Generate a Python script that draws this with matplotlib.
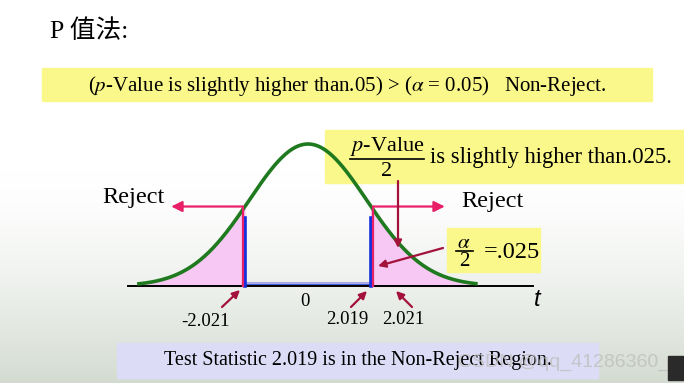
import numpy as np
import matplotlib.pyplot as plt
from matplotlib.patches import Rectangle
from matplotlib import transforms

# values shown on the slide
crit = 2.021          # critical t value (two-sided, alpha = 0.05)
t_stat = 2.019        # test statistic
spread = 1.876        # width of the schematic bell curve (t units)
t_lo, t_hi = -5.42, 5.38
tick_labels = ['-2.021', '0', '2.019', '2.021']

title = 'P 值法:'
banner = r'($p$-Value is slightly higher than.05) > ($\alpha$ = 0.05)   Non-Reject.'
bottom = 'Test Statistic 2.019 is in the Non-Reject Region.'

serif = ['Liberation Serif', 'Noto Sans CJK SC']
plt.rcParams['mathtext.fontset'] = 'stix'

# layout: pixel (from top-left) -> data
X0, SX, Y0, SY = 308, 31.2, 286, 142.0
def dx(px):
    return (px - X0) / SX
def dy(py):
    return (Y0 - py) / SY

fig = plt.figure(figsize=(6.84, 3.83), dpi=100)
ax = fig.add_axes([0, 0, 1, 1])
ax.set_xlim(dx(0), dx(684))
ax.set_ylim(dy(383), dy(0))
ax.axis('off')

# faint photo-like background in the lower part
grad = np.linspace(0, 1, 200)[:, None] ** 1.5 * np.ones((1, 50))
tint = np.array([0.83, 0.86, 0.82])
bg = 1 - grad[..., None] * (1 - tint)
ax.imshow(bg, extent=(dx(0), dx(684), dy(383), dy(170)), aspect='auto',
          zorder=0, origin='upper')

# bell curve
t = np.linspace(t_lo, t_hi, 400)
f = np.exp(-t ** 2 / (2 * spread ** 2))
ax.fill_between(t, 0, f, where=t <= -crit, color='#F7C8F3', zorder=2)
ax.fill_between(t, 0, f, where=t >= crit, color='#F7C8F3', zorder=2)
ax.plot(t, f, color='#1F7A1F', lw=2.6, zorder=5)

# t axis
ax.plot([dx(128), dx(533)], [0, 0], color='black', lw=1.4, zorder=4)
ax.text(dx(537), dy(300), 't', fontsize=17, style='italic',
        family='Liberation Sans', ha='center', va='center')

# non-reject band
ax.plot([-t_stat, t_stat], [0.012, 0.012], color='#A9A9E6', lw=3, zorder=3)
ax.plot([-t_stat, t_stat], [0.012, 0.012], color='#3355DD', lw=0.6, zorder=3)

# blue lines at the test statistic, pink reject markers at the critical value
hgt = np.exp(-crit ** 2 / (2 * spread ** 2))
for s in (-1, 1):
    ax.plot([s * t_stat, s * t_stat], [0, hgt * 0.86], color='#1030E0', lw=2.6, zorder=6)
    off = transforms.offset_copy(ax.transData, fig=fig, x=s * 2, y=0, units='dots')
    ax.plot([s * crit, s * crit], [0, hgt], color='#E8206A', lw=1.6,
            transform=off, zorder=7)
    ax.annotate('', xy=(s * crit + s * 2.3, hgt), xytext=(s * crit, hgt),
                xycoords=off, textcoords=off,
                arrowprops=dict(arrowstyle='-|>', color='#E8206A', lw=1.6,
                                mutation_scale=16, shrinkA=0, shrinkB=0), zorder=7)

ax.text(dx(133), dy(198), 'Reject', fontsize=17.5, family=serif, ha='center', va='center')
ax.text(dx(492), dy(201), 'Reject', fontsize=17.5, family=serif, ha='center', va='center')

# tick labels with dark red arrows
lab_pos = [(206, 322), (305, 302), (347, 320), (403, 320)]
arrows = [((222, 307), (240, 290)), None, ((351, 307), (367, 291)),
          ((412, 307), (396, 291))]
for lab, (x, y), arr in zip(tick_labels, lab_pos, arrows):
    ax.text(dx(x), dy(y), lab, fontsize=13.5, family=serif, ha='center', va='center')
    if arr:
        (x1, y1), (x2, y2) = arr
        ax.annotate('', xy=(dx(x2), dy(y2)), xytext=(dx(x1), dy(y1)),
                    arrowprops=dict(arrowstyle='-|>', color='#A3123A', lw=1.6,
                                    mutation_scale=11, shrinkA=0, shrinkB=0))

# title and banner
ax.text(dx(50), dy(31), title, fontsize=18.5, family=serif, ha='left', va='center')
ax.add_patch(Rectangle((dx(42), dy(101)), (652 - 42) / SX, 33 / SY,
                       color='#FAF88A', zorder=1))
ax.text(dx(347), dy(86), banner, fontsize=15, family=serif, ha='center', va='center', zorder=8)

# p-value/2 box
ax.add_patch(Rectangle((dx(325), dy(183)), (683 - 325) / SX, 53 / SY,
                       color='#FAF88A', zorder=1))
ax.text(dx(387), dy(146), r'$p$-Value', fontsize=16, family=serif, ha='center', va='center', zorder=8)
ax.plot([dx(350), dx(424)], [dy(159), dy(159)], color='black', lw=1.2, zorder=8)
ax.text(dx(387), dy(172), '2', fontsize=16, family=serif, ha='center', va='center', zorder=8)
ax.text(dx(430), dy(158), 'is slightly higher than.025.', fontsize=16.3, family=serif,
        ha='left', va='center', zorder=8)
ax.annotate('', xy=(dx(398), dy(248)), xytext=(dx(398), dy(181)),
            arrowprops=dict(arrowstyle='-|>', color='#A3123A', lw=1.6,
                            mutation_scale=11, shrinkA=0, shrinkB=0), zorder=8)

# alpha/2 box
ax.add_patch(Rectangle((dx(447), dy(272)), (540 - 447) / SX, 44 / SY,
                       color='#FAF88A', zorder=1))
ax.text(dx(464), dy(242), r'$\alpha$', fontsize=15, ha='center', va='center', zorder=8)
ax.plot([dx(456), dx(473)], [dy(251), dy(251)], color='black', lw=1.2, zorder=8)
ax.text(dx(464), dy(261), '2', fontsize=15, family=serif, ha='center', va='center', zorder=8)
ax.text(dx(484), dy(253), '=.025', fontsize=17.5, family=serif, ha='left', va='center', zorder=8)
ax.annotate('', xy=(dx(378), dy(266)), xytext=(dx(443), dy(248)),
            arrowprops=dict(arrowstyle='-|>', color='#A3123A', lw=1.6,
                            mutation_scale=11, shrinkA=0, shrinkB=0), zorder=8)

# bottom box
ax.add_patch(Rectangle((dx(117), dy(378)), (598 - 117) / SX, 35 / SY,
                       color='#DCDCF6', zorder=1))
ax.text(dx(358), dy(361), bottom, fontsize=14.5, family=serif, ha='center', va='center', zorder=8)
ax.text(dx(458), dy(362), 'CSDN @qq_41286360_', fontsize=14, color='#BFBFBF', alpha=0.8,
        family='Liberation Sans', ha='left', va='center', zorder=9)
ax.add_patch(Rectangle((dx(668), dy(380)), 16 / SX, 24 / SY, color='#2A2A2A', zorder=9))

fig.savefig('out.png', dpi=100)
